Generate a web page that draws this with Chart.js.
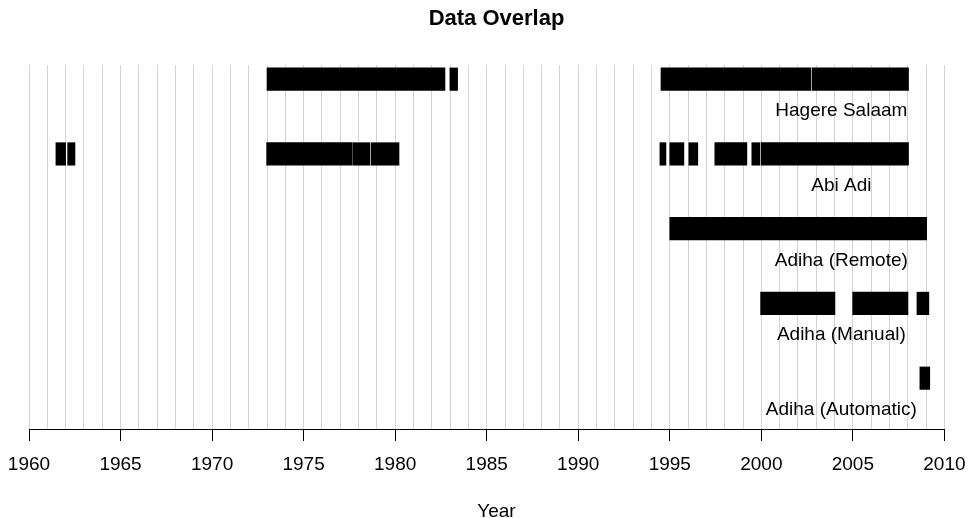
<!DOCTYPE html>
<html>
<head>
<meta charset="utf-8">
<script src="https://cdn.jsdelivr.net/npm/chart.js@4/dist/chart.umd.min.js"></script>
<style>
  html, body { margin: 0; padding: 0; background: #ffffff; }
  #wrap { width: 968px; height: 518px; position: relative; }
</style>
</head>
<body>
<div id="wrap"><canvas id="overlap"></canvas></div>
<script>
// Stations, listed top to bottom
const stations = ['Hagere Salaam', 'Abi Adi', 'Adiha (Remote)', 'Adiha (Manual)', 'Adiha (Automatic)'];

// Periods with records for each station, as [start, end] in decimal years
const hagereSalaam = [[1973.0, 1982.72], [1982.99, 1983.41], [1994.52, 2002.71], [2002.78, 2008.04]];
const abiAdi = [[1961.47, 1962.0], [1962.11, 1962.51], [1972.98, 1977.66], [1977.71, 1978.61],
                [1978.68, 1980.21], [1994.46, 1994.79], [1995.0, 1995.77], [1996.04, 1996.53],
                [1997.46, 1999.21], [1999.48, 1999.92], [1999.99, 2008.04]];
const adihaRemote = [[1995.0, 2009.03]];
const adihaManual = [[1999.96, 2004.02], [2004.99, 2008.01], [2008.5, 2009.15]];
const adihaAutomatic = [[2008.66, 2009.2]];

// Axis ticks: labelled every five years, a grid line every year
const labeledYears = [1960, 1965, 1970, 1975, 1980, 1985, 1990, 1995, 2000, 2005, 2010];
const firstYear = 1960;
const lastYear = 2010;

const periods = [hagereSalaam, abiAdi, adihaRemote, adihaManual, adihaAutomatic];

// Each station sits on its own row; the top row has the highest value
const rowOf = i => stations.length - i;

const bars = [];
periods.forEach((list, i) => {
  list.forEach(([a, b]) => bars.push({ x: [a, b], y: rowOf(i) }));
});

const FONT = "'Liberation Sans', Arial, Helvetica, sans-serif";
const LABEL_YEAR = 2004.37;   // horizontal centre of the station names
const LABEL_DROP = 0.495;     // station name baseline below its row

// Station names drawn under their bars
const stationLabels = {
  id: 'stationLabels',
  afterDatasetsDraw(chart) {
    const { ctx, scales: { x, y } } = chart;
    ctx.save();
    ctx.font = '19px ' + FONT;
    ctx.fillStyle = '#000';
    ctx.textAlign = 'center';
    ctx.textBaseline = 'alphabetic';
    stations.forEach((name, i) => {
      ctx.fillText(name, x.getPixelForValue(LABEL_YEAR), y.getPixelForValue(rowOf(i) - LABEL_DROP));
    });
    ctx.restore();
  }
};

// Axis line spanning only the labelled range
const axisLine = {
  id: 'axisLine',
  afterDraw(chart) {
    const { ctx, chartArea, scales: { x } } = chart;
    const yPix = Math.round(chartArea.bottom) + 0.5;
    ctx.save();
    ctx.strokeStyle = '#000';
    ctx.lineWidth = 1;
    ctx.beginPath();
    ctx.moveTo(Math.round(x.getPixelForValue(firstYear)) + 0.5, yPix);
    ctx.lineTo(Math.round(x.getPixelForValue(lastYear)) + 0.5, yPix);
    ctx.stroke();
    ctx.restore();
  }
};

new Chart(document.getElementById('overlap'), {
  type: 'bar',
  data: {
    datasets: [{
      data: bars,
      backgroundColor: '#000',
      borderWidth: 0,
      barThickness: 22.5
    }]
  },
  options: {
    indexAxis: 'y',
    responsive: true,
    maintainAspectRatio: false,
    animation: false,
    layout: { padding: { left: 29, right: 4, top: 0, bottom: 0 } },
    plugins: {
      legend: { display: false },
      tooltip: { enabled: false },
      title: {
        display: true,
        text: 'Data Overlap',
        color: '#000',
        font: { family: FONT, size: 22, weight: 'bold', lineHeight: 1.2 },
        padding: { top: 5.9, bottom: 32.7 }
      }
    },
    scales: {
      x: {
        type: 'linear',
        min: 1960,
        max: 2011.07,
        afterBuildTicks(scale) {
          const t = [];
          for (let yr = firstYear; yr <= lastYear; yr++) t.push({ value: yr });
          scale.ticks = t;
        },
        afterFit(scale) { scale.height = 89; },
        border: { display: false },
        grid: {
          display: true,
          drawOnChartArea: true,
          drawTicks: true,
          tickLength: 12,
          color: '#d3d3d3',
          lineWidth: 1,
          tickWidth: 1,
          tickColor: ctx => (ctx.tick && labeledYears.includes(ctx.tick.value)) ? '#000' : 'rgba(0,0,0,0)'
        },
        ticks: {
          autoSkip: false,
          maxRotation: 0,
          padding: 0,
          color: '#000',
          font: { family: FONT, size: 19, lineHeight: '48.2px' },
          callback: v => labeledYears.includes(v) ? String(v) : ''
        },
        title: {
          display: true,
          text: 'Year',
          color: '#000',
          font: { family: FONT, size: 19, lineHeight: 1 },
          padding: { top: 0, bottom: -3.4 }
        }
      },
      y: {
        type: 'linear',
        display: false,
        offset: false,
        min: 0.32,
        max: 5.19,
        grid: { offset: false }
      }
    }
  },
  plugins: [stationLabels, axisLine]
});
</script>
</body>
</html>
